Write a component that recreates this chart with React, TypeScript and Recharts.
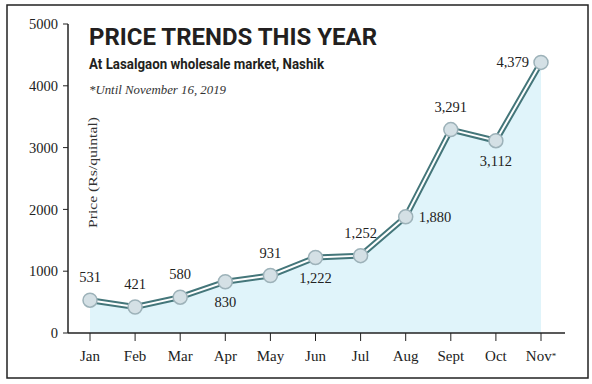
import React from 'react';
import { ComposedChart, Area, Line, XAxis, YAxis, LabelList } from 'recharts';

const months = ['Jan', 'Feb', 'Mar', 'Apr', 'May', 'Jun', 'Jul', 'Aug', 'Sept', 'Oct', 'Nov*'];
const prices = [531, 421, 580, 830, 931, 1222, 1252, 1880, 3291, 3112, 4379];
// where each value label sits relative to its dot
const labelSide = ['up', 'up', 'up', 'down', 'up', 'down', 'up', 'right', 'up', 'down', 'left'];
const yTicks = [0, 1000, 2000, 3000, 4000, 5000];

const data = months.map((m, i) => ({ month: m, price: prices[i] }));

const serif = '"Liberation Serif", "DejaVu Serif", serif';

const fmt = (v: number) => (v >= 1000 ? v.toLocaleString('en-US') : String(v));

const ValueLabel = (props: any) => {
  const { x, y, value, index } = props;
  const side = labelSide[index];
  let tx = x;
  let ty = y;
  let anchor: 'middle' | 'start' | 'end' = 'middle';
  if (side === 'up') ty = y - 23;
  if (side === 'down') ty = y + 20;
  if (side === 'right') {
    tx = x + 13;
    anchor = 'start';
  }
  if (side === 'left') {
    tx = x - 12;
    anchor = 'end';
  }
  return (
    <text x={tx} y={ty} dy="0.35em" textAnchor={anchor} fontFamily={serif} fontSize={14.5} fill="#222">
      {fmt(value)}
    </text>
  );
};

// month tick, with the trailing asterisk set as a small superscript
const MonthTick = (props: any) => {
  const { x, y, payload } = props;
  const label: string = payload.value;
  const star = label.endsWith('*');
  return (
    <text x={x} y={y} dy="0.71em" textAnchor="middle" fontFamily={serif} fontSize={15} fill="#222">
      {star ? label.slice(0, -1) : label}
      {star && (
        <tspan fontSize={9} dy="-0.2em">
          *
        </tspan>
      )}
    </text>
  );
};

export default function App() {
  return (
    <div style={{ position: 'absolute', left: 0, top: 0, width: 592, height: 384, background: '#fff' }}>
      <ComposedChart width={592} height={384} data={data} margin={{ top: 24, right: 27, bottom: 21, left: 8 }}>
        <XAxis
          dataKey="month"
          padding={{ left: 22, right: 24 }}
          height={30}
          tickSize={8}
          tickMargin={9}
          axisLine={{ stroke: '#222', strokeWidth: 1.5 }}
          tickLine={{ stroke: '#222' }}
          tick={<MonthTick />}
        />
        <YAxis
          domain={[0, 5000]}
          ticks={yTicks}
          width={60}
          tickSize={5}
          tickMargin={5}
          axisLine={{ stroke: '#222', strokeWidth: 1.5 }}
          tickLine={{ stroke: '#222' }}
          tick={{ fontFamily: serif, fontSize: 14.5, fill: '#222' }}
        />
        <Area dataKey="price" type="linear" stroke="none" fill="#e0f4fa" fillOpacity={1} isAnimationActive={false} />
        <Line dataKey="price" type="linear" stroke="#44767a" strokeWidth={6} dot={false} isAnimationActive={false} />
        <Line
          dataKey="price"
          type="linear"
          stroke="#fff"
          strokeWidth={2}
          dot={{ r: 7, fill: '#d4e0e5', stroke: '#9db2b9', strokeWidth: 1.5 }}
          isAnimationActive={false}
        >
          <LabelList dataKey="price" content={ValueLabel} />
        </Line>
      </ComposedChart>
      <svg width={592} height={384} style={{ position: 'absolute', left: 0, top: 0, pointerEvents: 'none' }}>
        <rect x={7} y={5} width={581} height={373} fill="none" stroke="#222" strokeWidth={1.5} />
        <text x={89} y={45} fontFamily="Roboto, sans-serif" fontWeight={700} fontSize={23} fill="#231f20" textLength={288} lengthAdjust="spacingAndGlyphs">
          PRICE TRENDS THIS YEAR
        </text>
        <text x={89} y={69} fontFamily="Roboto, sans-serif" fontWeight={700} fontSize={14} fill="#231f20" textLength={235} lengthAdjust="spacingAndGlyphs">
          At Lasalgaon wholesale market, Nashik
        </text>
        <text x={89} y={94} fontFamily={serif} fontStyle="italic" fontSize={13} fill="#333" textLength={137} lengthAdjust="spacingAndGlyphs">
          *Until November 16, 2019
        </text>
        <text
          x={0}
          y={0}
          transform="translate(97,228) rotate(-90)"
          fontFamily={serif}
          fontSize={13}
          fill="#333"
          textLength={111}
          lengthAdjust="spacingAndGlyphs"
        >
          Price (Rs/quintal)
        </text>
      </svg>
    </div>
  );
}
